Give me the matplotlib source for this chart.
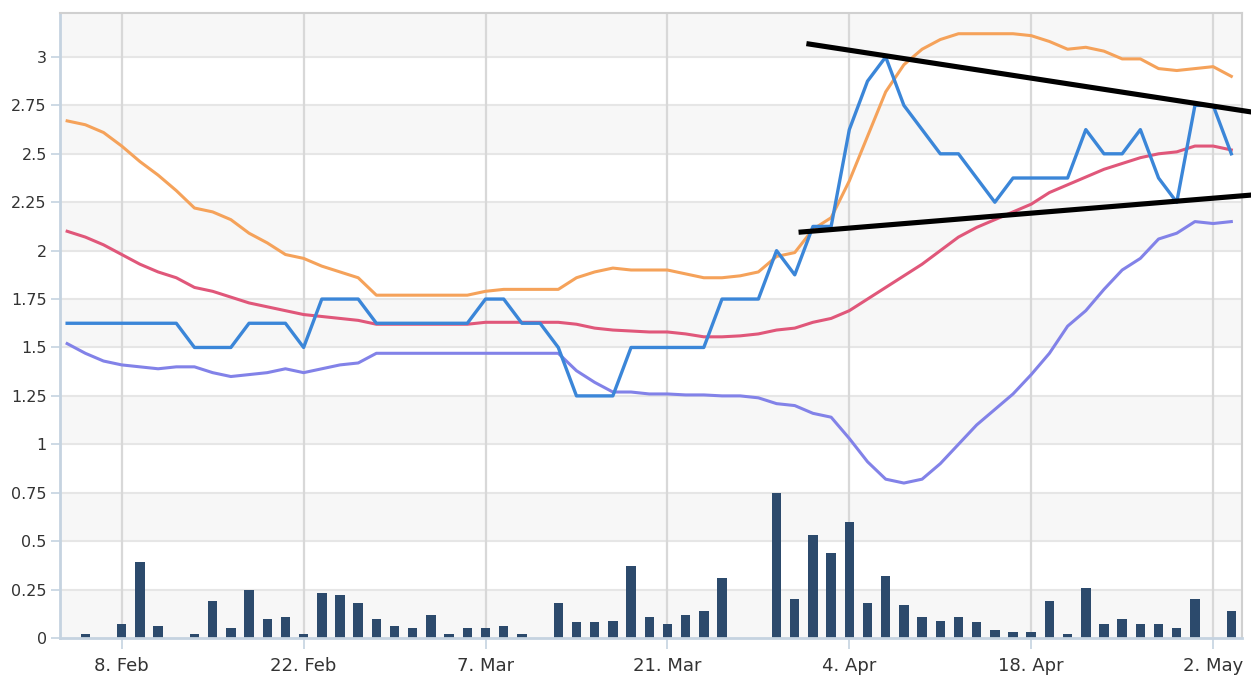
# bollinger style chart with volume bars

import numpy as np
import matplotlib.pyplot as plt

# trading day index, 0 = 8. Feb
days = list(range(-3, 62))

price = [1.625, 1.625, 1.625, 1.625, 1.625, 1.625, 1.625, 1.5, 1.5, 1.5,
         1.625, 1.625, 1.625, 1.5, 1.75, 1.75, 1.75, 1.625, 1.625, 1.625,
         1.625, 1.625, 1.625, 1.75, 1.75, 1.625, 1.625, 1.5, 1.25, 1.25,
         1.25, 1.5, 1.5, 1.5, 1.5, 1.5, 1.75, 1.75, 1.75, 2.0,
         1.875, 2.125, 2.125, 2.625, 2.875, 3.0, 2.75, 2.625, 2.5, 2.5,
         2.375, 2.25, 2.375, 2.375, 2.375, 2.375, 2.625, 2.5, 2.5, 2.625,
         2.375, 2.25, 2.75, 2.75, 2.5]

upper = [2.67, 2.65, 2.61, 2.54, 2.46, 2.39, 2.31, 2.22, 2.20, 2.16,
         2.09, 2.04, 1.98, 1.96, 1.92, 1.89, 1.86, 1.77, 1.77, 1.77,
         1.77, 1.77, 1.77, 1.79, 1.80, 1.80, 1.80, 1.80, 1.86, 1.89,
         1.91, 1.90, 1.90, 1.90, 1.88, 1.86, 1.86, 1.87, 1.89, 1.97,
         1.99, 2.11, 2.17, 2.36, 2.59, 2.82, 2.96, 3.04, 3.09, 3.12,
         3.12, 3.12, 3.12, 3.11, 3.08, 3.04, 3.05, 3.03, 2.99, 2.99,
         2.94, 2.93, 2.94, 2.95, 2.90]

middle = [2.10, 2.07, 2.03, 1.98, 1.93, 1.89, 1.86, 1.81, 1.79, 1.76,
          1.73, 1.71, 1.69, 1.67, 1.66, 1.65, 1.64, 1.62, 1.62, 1.62,
          1.62, 1.62, 1.62, 1.63, 1.63, 1.63, 1.63, 1.63, 1.62, 1.60,
          1.59, 1.585, 1.58, 1.58, 1.57, 1.555, 1.555, 1.56, 1.57, 1.59,
          1.60, 1.63, 1.65, 1.69, 1.75, 1.81, 1.87, 1.93, 2.00, 2.07,
          2.12, 2.16, 2.20, 2.24, 2.30, 2.34, 2.38, 2.42, 2.45, 2.48,
          2.50, 2.51, 2.54, 2.54, 2.52]

lower = [1.52, 1.47, 1.43, 1.41, 1.40, 1.39, 1.40, 1.40, 1.37, 1.35,
         1.36, 1.37, 1.39, 1.37, 1.39, 1.41, 1.42, 1.47, 1.47, 1.47,
         1.47, 1.47, 1.47, 1.47, 1.47, 1.47, 1.47, 1.47, 1.38, 1.32,
         1.27, 1.27, 1.26, 1.26, 1.255, 1.255, 1.25, 1.25, 1.24, 1.21,
         1.20, 1.16, 1.14, 1.03, 0.91, 0.82, 0.80, 0.82, 0.90, 1.00,
         1.10, 1.18, 1.26, 1.36, 1.47, 1.61, 1.69, 1.80, 1.90, 1.96,
         2.06, 2.09, 2.15, 2.14, 2.15]

volume = [0, 0.02, 0, 0.07, 0.39, 0.06, 0, 0.02, 0.19, 0.05,
          0.25, 0.10, 0.11, 0.02, 0.23, 0.22, 0.18, 0.10, 0.06, 0.05,
          0.12, 0.02, 0.05, 0.05, 0.06, 0.02, 0, 0.18, 0.08, 0.08,
          0.09, 0.37, 0.11, 0.07, 0.12, 0.14, 0.31, 0, 0, 0.75,
          0.20, 0.53, 0.44, 0.60, 0.18, 0.32, 0.17, 0.11, 0.09, 0.11,
          0.08, 0.04, 0.03, 0.03, 0.19, 0.02, 0.26, 0.07, 0.10, 0.07,
          0.07, 0.05, 0.20, 0, 0.14]

tick_days = [0, 10, 20, 30, 40, 50, 60]
tick_labels = ['8. Feb', '22. Feb', '7. Mar', '21. Mar', '4. Apr', '18. Apr', '2. May']

# hand drawn trend lines (day index, value)
trend_top_x = [37.78, 62.1]
trend_top_y = [3.067, 2.716]
trend_bot_x = [37.35, 62.1]
trend_bot_y = [2.096, 2.287]

fig = plt.figure(figsize=(12.51, 6.88), dpi=100)
ax = fig.add_axes([0.048, 0.0727, 0.9447, 0.9084])

ax.set_xlim(-3.39, 61.58)
ax.set_ylim(0, 3.227)

# alternating bands
yt = np.arange(0, 3.26, 0.25)
for i, y0 in enumerate(yt):
    if i % 2 == 0:
        ax.axhspan(y0, y0 + 0.25, color='#f7f7f7', zorder=0, lw=0)
for y0 in yt[1:]:
    ax.axhline(y0, color='#e6e6e6', lw=1.5, zorder=1)
for d in tick_days:
    ax.axvline(d, color='#d8d8d8', lw=1.6, zorder=1)

vd = [d for d, v in zip(days, volume) if v > 0]
vv = [v for v in volume if v > 0]
ax.bar(vd, vv, width=0.52, color='#2c4a6c', zorder=2)

ax.plot(days, lower, color='#8282e8', lw=2.2, zorder=3)
ax.plot(days, middle, color='#e0577a', lw=2.2, zorder=3)
ax.plot(days, upper, color='#f5a25a', lw=2.2, zorder=3)
ax.plot(days, price, color='#3b86d8', lw=2.4, zorder=4)

ax.plot(trend_top_x, trend_top_y, color='black', lw=3.7, clip_on=False, zorder=5)
ax.plot(trend_bot_x, trend_bot_y, color='black', lw=3.7, clip_on=False, zorder=5)

ax.set_yticks(yt[:13])
ax.set_yticklabels(['0', '0.25', '0.5', '0.75', '1', '1.25', '1.5', '1.75',
                    '2', '2.25', '2.5', '2.75', '3'])
ax.set_xticks(tick_days)
ax.set_xticklabels(tick_labels)
ax.tick_params(axis='y', length=6.5, width=1.2, color='#c5d3e0', labelsize=11.5,
               labelcolor='#333333', pad=3)
ax.tick_params(axis='x', length=8, width=1.2, color='#c5d3e0', labelsize=13,
               labelcolor='#333333', pad=6)

for s in ['left', 'bottom']:
    ax.spines[s].set_color('#c5d3e0')
    ax.spines[s].set_linewidth(2)
for s in ['top', 'right']:
    ax.spines[s].set_color('#d0d0d0')
    ax.spines[s].set_linewidth(1.5)

plt.savefig('out.png', dpi=100)
